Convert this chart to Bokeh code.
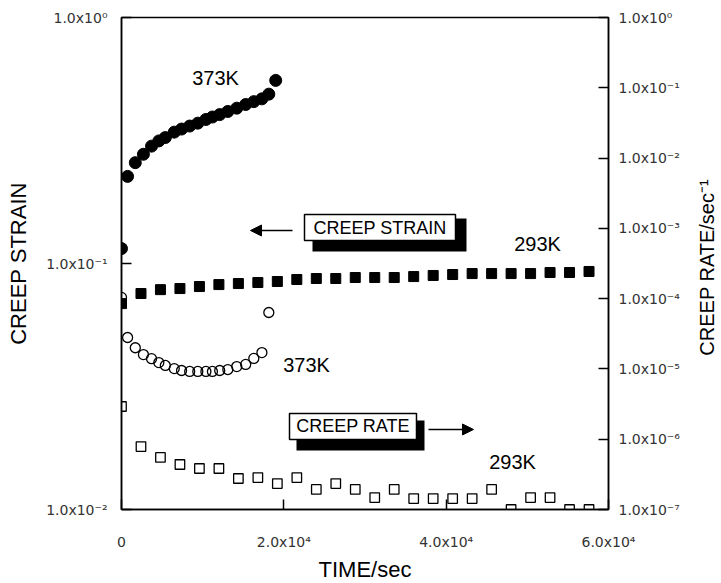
import math
from bokeh.plotting import figure
from bokeh.layouts import row
from bokeh.models import (Range1d, LogScale, LogAxis, FixedTicker, CustomJSTickFormatter,
                          Label, BoxAnnotation, Arrow, NormalHead)
from bokeh.embed import file_html
from bokeh.resources import INLINE

# ---------------- data ----------------
# 373K creep strain (filled circles, left axis)
t_373_strain = [0, 750, 1700, 2700, 3700, 4600, 5400, 6500, 7400, 8400, 9400, 10400,
                11200, 12100, 13100, 14200, 15300, 16300, 17300, 18150, 19000]
strain_373 = [0.115, 0.226, 0.257, 0.278, 0.300, 0.315, 0.325, 0.342, 0.352, 0.362, 0.372,
              0.385, 0.394, 0.403, 0.415, 0.428, 0.443, 0.455, 0.467, 0.488, 0.555]

# 293K creep strain (filled squares, left axis)
t_293 = [0, 2400, 4800, 7200, 9600, 12000, 14400, 16800, 19200, 21600, 24000, 26400,
         28800, 31200, 33600, 36000, 38400, 40800, 43200, 45600, 48000, 50400, 52800,
         55200, 57600]
strain_293 = [0.0687, 0.0755, 0.0783, 0.0791, 0.0806, 0.0821, 0.0829, 0.0837, 0.0845,
              0.0861, 0.0869, 0.0869, 0.0877, 0.0877, 0.0877, 0.0885, 0.0894, 0.0902,
              0.0910, 0.0910, 0.0910, 0.0910, 0.0919, 0.0919, 0.0928]

# 373K creep rate (open circles, right axis)
t_373_rate = [0, 750, 1700, 2700, 3700, 4600, 5400, 6500, 7400, 8400, 9400, 10400,
              11200, 12100, 13100, 14200, 15300, 16300, 17300, 18150]
rate_373 = [1.04e-4, 2.8e-5, 2.0e-5, 1.6e-5, 1.4e-5, 1.23e-5, 1.12e-5, 1.01e-5, 9.5e-6,
            9.2e-6, 9.2e-6, 9.2e-6, 9.2e-6, 9.5e-6, 9.8e-6, 1.08e-5, 1.16e-5, 1.41e-5,
            1.71e-5, 6.35e-5]

# 293K creep rate (open squares, right axis)
rate_293 = [2.92e-6, 7.87e-7, 5.50e-7, 4.37e-7, 3.83e-7, 3.83e-7, 2.76e-7, 2.85e-7,
            2.34e-7, 2.85e-7, 1.93e-7, 2.34e-7, 1.93e-7, 1.48e-7, 1.93e-7, 1.43e-7,
            1.43e-7, 1.43e-7, 1.43e-7, 1.93e-7, 1.0e-7, 1.48e-7, 1.48e-7, 1.0e-7, 1.0e-7]

x_ticks = [0, 20000, 40000, 60000]
strain_ticks = [0.01, 0.1, 1.0]
rate_ticks = [1e-7, 1e-6, 1e-5, 1e-4, 1e-3, 1e-2, 1e-1, 1.0]

# ---------------- figure ----------------
p = figure(frame_width=487, frame_height=492,
           x_range=Range1d(0, 60000), y_range=Range1d(0.01, 1.0),
           y_axis_type="log", output_backend="svg", toolbar_location=None,
           min_border_left=121, min_border_right=75, min_border_top=17, min_border_bottom=72,
           background_fill_color="white", border_fill_color="white")
p.xgrid.visible = False
p.ygrid.visible = False
p.outline_line_color = "black"
p.outline_line_width = 1.5

p.extra_y_ranges = {"rate": Range1d(1e-7, 1.0)}
p.extra_y_scales = {"rate": LogScale()}

SUP = """const sup = {"-":"\\u207b","0":"\\u2070","1":"\\u00b9","2":"\\u00b2","3":"\\u00b3",
             "4":"\\u2074","5":"\\u2075","6":"\\u2076","7":"\\u2077","8":"\\u2078","9":"\\u2079"};
"""
log_fmt = CustomJSTickFormatter(code=SUP + """
const e = Math.round(Math.log10(tick));
return "1.0x10" + String(e).split("").map(c => sup[c]).join("");
""")
x_fmt = CustomJSTickFormatter(code=SUP + """
if (tick == 0) return "0";
const e = Math.floor(Math.log10(tick) + 1e-9);
const m = tick / Math.pow(10, e);
return m.toFixed(1) + "x10" + String(e).split("").map(c => sup[c]).join("");
""")

def style(ax):
    ax.major_tick_in = 10
    ax.major_tick_out = 0
    ax.minor_tick_line_color = None
    ax.axis_line_width = 1.5
    ax.major_tick_line_width = 1.5
    ax.major_label_text_font = "DejaVu Sans"
    ax.major_label_text_font_size = "14px"
    ax.major_label_text_color = "#333333"
    ax.axis_label_text_font = "Liberation Sans"
    ax.axis_label_text_font_size = "22px"
    ax.axis_label_text_font_style = "normal"
    ax.axis_label_text_color = "black"

ly = p.yaxis[0]
style(ly)
ly.ticker = FixedTicker(ticks=strain_ticks, minor_ticks=[])
ly.formatter = log_fmt
ly.axis_label = "CREEP STRAIN"
ly.major_label_standoff = 14
ly.axis_label_standoff = 12

bx = p.xaxis[0]
style(bx)
bx.ticker = FixedTicker(ticks=x_ticks, minor_ticks=[])
bx.formatter = x_fmt
bx.axis_label = "TIME/sec"
bx.major_label_standoff = 24
bx.axis_label_standoff = 4

ry = LogAxis(y_range_name="rate")
style(ry)
ry.ticker = FixedTicker(ticks=rate_ticks, minor_ticks=[])
ry.formatter = log_fmt
ry.major_label_standoff = 10
p.add_layout(ry, "right")

# ---------------- series ----------------
p.scatter(t_373_strain, strain_373, marker="circle", size=12,
          fill_color="black", line_color="black")
p.scatter(t_293, strain_293, marker="square", size=10,
          fill_color="black", line_color="black")
p.scatter(t_373_rate, rate_373, marker="circle", size=10, y_range_name="rate",
          fill_color=None, line_color="black", line_width=1.3)
p.scatter(t_293, rate_293, marker="square", size=9.5, y_range_name="rate",
          fill_color=None, line_color="black", line_width=1.3)

# ---------------- annotations ----------------
def lab(fig, x, y, text, size="20px", angle=0.0):
    fig.add_layout(Label(x=x, y=y, text=text, text_font="Liberation Sans",
                         text_font_size=size, text_align="center", text_baseline="middle",
                         text_color="black", angle=angle))

lab(p, 11581, 0.565, "373K")
lab(p, 51251, 0.1195, "293K")
lab(p, 22792, 0.0385, "373K")
lab(p, 48171, 0.01567, "293K")

# CREEP STRAIN box with shadow
p.add_layout(BoxAnnotation(left=23531, right=42504, top=0.1525, bottom=0.1119,
                           fill_color="black", fill_alpha=1.0, line_color=None))
p.add_layout(BoxAnnotation(left=22546, right=41149, top=0.1582, bottom=0.1240,
                           fill_color="white", fill_alpha=1.0, line_color="black",
                           line_alpha=1.0, line_width=1.5))
lab(p, 31850, 0.1395, "CREEP STRAIN", "18px")
p.add_layout(Arrow(end=NormalHead(size=11, fill_color="black", line_color="black"),
                   x_start=21067, y_start=0.1362, x_end=15893, y_end=0.1362,
                   line_width=1.5, line_color="black"))

# CREEP RATE box with shadow
p.add_layout(BoxAnnotation(left=21560, right=37330, top=0.0230, bottom=0.01738,
                           fill_color="black", fill_alpha=1.0, line_color=None))
p.add_layout(BoxAnnotation(left=20698, right=36344, top=0.02456, bottom=0.01926,
                           fill_color="white", fill_alpha=1.0, line_color="black",
                           line_alpha=1.0, line_width=1.5))
lab(p, 28520, 0.02175, "CREEP RATE", "18px")
p.add_layout(Arrow(end=NormalHead(size=11, fill_color="black", line_color="black"),
                   x_start=37822, y_start=0.02115, x_end=43366, y_end=0.02115,
                   line_width=1.5, line_color="black"))

# ---------------- right-hand axis title (reads bottom to top) ----------------
q = figure(frame_width=38, frame_height=17 + 492 + 72,
           x_range=Range1d(0, 1), y_range=Range1d(0, 1),
           output_backend="svg", toolbar_location=None,
           min_border_left=0, min_border_right=0, min_border_top=0, min_border_bottom=0,
           background_fill_color="white", border_fill_color="white")
q.axis.visible = False
q.xgrid.visible = False
q.ygrid.visible = False
q.outline_line_color = None
lab(q, 0.62, 0.57, "CREEP RATE/sec\u207b\u00b9", "20px", math.pi / 2)

layout = row(p, q, spacing=0)

with open("out.html", "w", encoding="utf-8") as f:
    f.write(file_html(layout, INLINE))
